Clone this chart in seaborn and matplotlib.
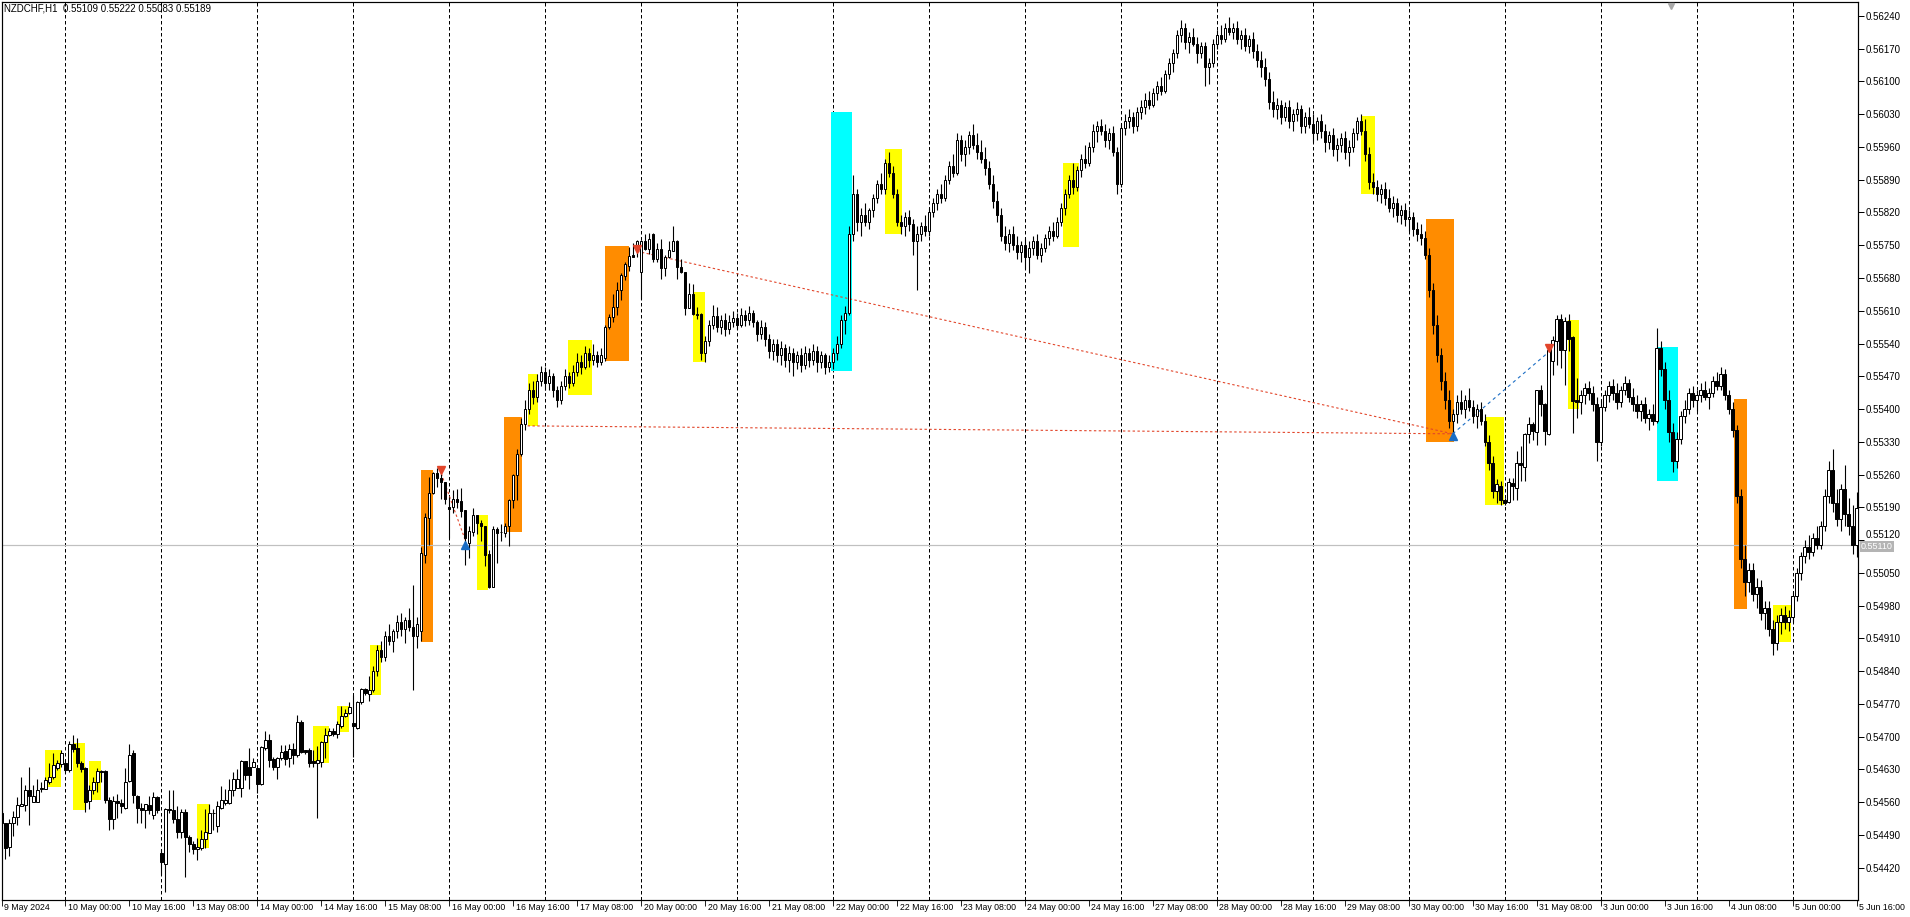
import numpy as np
import pandas as pd
import matplotlib
matplotlib.use("Agg")
import matplotlib.pyplot as plt
import matplotlib.transforms as mtransforms
from matplotlib.patches import Rectangle
from matplotlib import font_manager as fm
import seaborn as sns

# ----------------------------------------------------------------- data
SYMBOL = "NZDCHF,H1"
FIRST_BAR = "2024-05-09 08:00"
POINT = 1e-5  # prices below are in points (1e-5)

open_pts = [
    54536,54516,54465,54516,54528,54552,54554,54585,54561,54561,
    54588,54588,54603,54614,54633,54641,54644,54628,54685,54676,
    54643,54633,54563,54585,54604,54626,54626,54565,54525,54563,
    54559,54547,54606,54665,54574,54548,54543,54553,54532,54572,
    54452,54428,54546,54543,54523,54497,54540,54485,54470,54460,
    54463,54481,54495,54537,54510,54548,54558,54558,54585,54590,
    54590,54647,54636,54636,54633,54599,54676,54692,54652,54636,
    54655,54670,54655,54674,54660,54731,54672,54672,54647,54644,
    54645,54688,54703,54712,54705,54723,54743,54750,54730,54719,
    54774,54801,54792,54799,54840,54885,54870,54915,54905,54925,
    54945,54930,54950,54935,54915,54925,55089,55168,55221,55263,
    55252,55243,55190,55190,55207,55204,55184,55113,55138,55174,
    55157,55150,55090,55020,55143,55137,55136,55150,55206,55259,
    55304,55367,55400,55440,55425,55460,55480,55455,55470,55440,
    55420,55450,55470,55455,55480,55500,55490,55520,55505,55515,
    55500,55510,55575,55597,55618,55654,55685,55706,55729,55743,
    55693,55759,55742,55775,55720,55741,55702,55724,55738,55759,
    55704,55692,55616,55645,55603,55603,55520,55545,55580,55598,
    55575,55590,55570,55585,55595,55580,55600,55590,55605,55585,
    55560,55575,55550,55525,55540,55515,55530,55505,55520,55500,
    55515,55495,55520,55505,55525,55500,55515,55490,55500,55520,
    55540,55590,55605,55775,55860,55800,55815,55800,55825,55850,
    55880,55870,55925,55905,55860,55800,55790,55810,55795,55760,
    55775,55790,55780,55820,55840,55860,55850,55890,55920,55905,
    55975,55945,55960,55985,55965,55950,55935,55915,55880,55845,
    55815,55770,55755,55775,55750,55735,55750,55725,55745,55760,
    55730,55745,55765,55780,55770,55800,55830,55860,55890,55875,
    55910,55935,55925,55960,55995,56005,55995,55975,55990,55950,
    55880,56000,56015,56025,56005,56035,56045,56060,56050,56075,
    56090,56080,56115,56140,56160,56200,56215,56185,56195,56180,
    56160,56175,56130,56140,56180,56200,56190,56215,56205,56215,
    56190,56200,56175,56190,56165,56145,56130,56105,56055,56040,
    56050,56025,56045,56015,56030,56040,56005,56025,56010,55990,
    56015,55995,55970,55985,55955,55965,55980,55950,55960,55990,
    56015,55995,55945,55885,55875,55860,55870,55850,55830,55840,
    55815,55825,55805,55810,55785,55775,55765,55730,55655,55580,
    55515,55460,55420,55375,55390,55415,55400,55420,55405,55385,
    55400,55375,55330,55285,55225,55236,55206,55202,55241,55231,
    55285,55277,55346,55367,55351,55440,55411,55347,55503,55545,
    55593,55526,55588,55553,55420,55416,55430,55445,55435,55410,
    55330,55405,55430,55450,55435,55415,55440,55455,55425,55410,
    55395,55410,55380,55390,55375,55530,55485,55420,55350,55290,
    55335,55385,55400,55435,55420,55430,55440,55425,55435,55460,
    55450,55475,55430,55400,55355,55215,55080,55030,55055,55005,
    55020,54965,54975,54930,54900,54945,54960,54945,54955,55000,
    55050,55085,55105,55095,55125,55110,55150,55215,55270,55200,
    55165,55230,55175,55150,55109,
]

high_pts = [
    54541,54516,54523,54541,54570,54614,54596,54636,54596,54610,
    54603,54614,54643,54666,54650,54671,54650,54690,54703,54696,
    54647,54636,54596,54614,54633,54628,54628,54570,54574,54577,
    54567,54632,54684,54672,54576,54559,54556,54574,54581,54574,
    54460,54548,54587,54587,54552,54545,54545,54490,54476,54483,
    54501,54545,54555,54545,54563,54594,54588,54610,54625,54631,
    54650,54648,54676,54655,54633,54679,54713,54706,54657,54657,
    54683,54683,54684,54687,54746,54735,54672,54676,54672,54681,
    54690,54719,54719,54719,54734,54766,54759,54774,54788,54776,
    54803,54803,54830,54850,54895,54905,54925,54940,54930,54960,
    54965,54955,54975,55024,54955,55106,55177,55255,55266,55273,
    55262,55245,55213,55227,55229,55231,55184,55149,55188,55174,
    55163,55150,55099,55149,55147,55154,55157,55208,55262,55314,
    55380,55420,55455,55460,55475,55492,55490,55485,55478,55450,
    55460,55485,55480,55495,55520,55515,55535,55530,55540,55525,
    55530,55580,55604,55645,55672,55690,55714,55747,55754,55762,
    55761,55775,55776,55776,55754,55763,55729,55759,55791,55761,
    55720,55693,55670,55668,55618,55605,55555,55590,55623,55618,
    55600,55605,55600,55610,55605,55615,55612,55620,55612,55590,
    55590,55585,55560,55550,55550,55545,55540,55535,55530,55525,
    55530,55535,55530,55540,55535,55525,55520,55515,55530,55555,
    55600,55620,55790,55900,55870,55830,55840,55830,55860,55890,
    55905,55935,55950,55920,55870,55815,55820,55825,55805,55790,
    55800,55815,55830,55850,55870,55880,55900,55930,55945,55990,
    55985,55975,55995,56010,55990,55975,55960,55930,55900,55865,
    55830,55790,55785,55790,55770,55760,55765,55760,55770,55775,
    55755,55775,55790,55800,55810,55840,55870,55900,55925,55920,
    55945,55965,55970,56010,56015,56020,56010,56000,56005,55960,
    56010,56030,56040,56035,56045,56060,56075,56080,56085,56100,
    56110,56125,56150,56170,56210,56232,56225,56205,56215,56195,
    56185,56185,56150,56190,56210,56220,56225,56237,56225,56230,
    56210,56215,56200,56205,56180,56165,56150,56120,56080,56065,
    56060,56055,56060,56040,56055,56050,56035,56045,56030,56025,
    56030,56010,55995,56000,55980,55990,55995,55975,56000,56025,
    56030,56020,55960,55905,55890,55880,55885,55870,55855,55850,
    55835,55840,55825,55820,55800,55795,55780,55745,55670,55600,
    55530,55480,55440,55400,55430,55440,55430,55445,55420,55410,
    55415,55390,55345,55300,55250,55247,55210,55252,55252,55310,
    55321,55349,55384,55373,55440,55452,55413,55534,55555,55601,
    55604,55596,55604,55555,55467,55440,55455,55460,55450,55425,
    55420,55440,55460,55465,55455,55450,55470,55465,55445,55430,
    55420,55425,55400,55410,55573,55545,55500,55440,55370,55350,
    55395,55420,55445,55450,55440,55455,55460,55445,55470,55480,
    55490,55485,55440,55415,55365,55230,55110,55070,55070,55040,
    55035,54990,54990,54950,54960,54975,54980,54970,55010,55060,
    55095,55120,55130,55135,55150,55160,55230,55290,55315,55230,
    55240,55280,55210,55195,55222,
]

low_pts = [
    54512,54438,54444,54487,54512,54552,54541,54512,54561,54561,
    54581,54588,54599,54609,54628,54635,54625,54625,54668,54636,
    54625,54539,54545,54577,54581,54603,54559,54501,54503,54527,
    54537,54545,54603,54559,54516,54516,54505,54534,54523,54537,
    54404,54369,54537,54516,54483,54483,54401,54454,54450,54436,
    54458,54461,54494,54501,54497,54546,54553,54556,54574,54590,
    54570,54607,54588,54636,54580,54596,54672,54636,54628,54610,
    54650,54639,54636,54641,54657,54665,54663,54636,54636,54527,
    54636,54654,54701,54701,54697,54719,54741,54748,54657,54716,
    54770,54790,54777,54795,54830,54860,54862,54895,54880,54910,
    54915,54900,54925,54800,54890,54905,55071,55110,55219,55234,
    55208,55198,55124,55177,55188,55170,55067,55082,55129,55134,
    55117,55065,55017,55019,55070,55119,55127,55108,55188,55206,
    55300,55355,55390,55410,55415,55450,55440,55440,55425,55405,
    55410,55440,55445,55450,55470,55475,55485,55490,55495,55490,
    55495,55502,55570,55585,55600,55634,55675,55695,55724,55725,
    55636,55740,55732,55714,55714,55677,55685,55722,55738,55677,
    55690,55601,55615,55601,55593,55505,55500,55535,55570,55565,
    55560,55555,55560,55575,55570,55575,55578,55580,55575,55545,
    55550,55535,55510,55505,55500,55495,55490,55480,55470,55485,
    55480,55485,55490,55495,55480,55488,55475,55480,55485,55505,
    55530,55560,55600,55760,55780,55770,55790,55785,55810,55840,
    55860,55860,55895,55850,55790,55775,55770,55780,55730,55655,
    55760,55770,55770,55810,55825,55840,55845,55880,55895,55900,
    55930,55920,55945,55955,55935,55925,55900,55870,55830,55800,
    55760,55740,55735,55740,55720,55715,55700,55690,55730,55720,
    55715,55735,55750,55760,55765,55790,55815,55850,55860,55865,
    55895,55915,55920,55950,55970,55985,55960,55955,55940,55860,
    55875,55985,56000,55990,55995,56020,56030,56040,56045,56060,
    56070,56075,56105,56120,56150,56185,56170,56160,56175,56140,
    56150,56090,56095,56130,56170,56180,56185,56200,56190,56180,
    56170,56165,56160,56150,56130,56110,56090,56040,56025,56020,
    56010,56015,56000,55995,56015,55990,55990,56000,55970,55975,
    55980,55950,55955,55940,55930,55950,55935,55920,55950,55975,
    55985,55930,55870,55860,55845,55840,55835,55820,55810,55800,
    55795,55790,55780,55770,55760,55750,55720,55640,55560,55500,
    55440,55400,55360,55350,55370,55390,55380,55395,55370,55360,
    55365,55320,55270,55210,55200,55195,55195,55200,55206,55206,
    55247,55247,55327,55334,55324,55385,55324,55344,55473,55493,
    55488,55452,55524,55349,55380,55390,55410,55420,55395,55290,
    55320,55395,55415,55420,55400,55405,55430,55415,55395,55380,
    55375,55370,55355,55365,55370,55470,55400,55330,55265,55275,
    55325,55370,55390,55405,55395,55415,55420,55400,55425,55440,
    55440,55420,55390,55340,55200,55060,55000,55010,54990,54975,
    54950,54930,54915,54874,54885,54920,54930,54925,54945,54990,
    55035,55070,55080,55085,55100,55100,55140,55200,55180,55150,
    55140,55150,55130,55090,55083,
]

close_pts = [
    54516,54463,54516,54528,54553,54557,54585,54574,54574,54587,
    54590,54607,54614,54639,54643,54665,54628,54685,54673,54643,
    54630,54561,54587,54604,54626,54625,54565,54525,54563,54558,
    54552,54604,54661,54576,54547,54543,54555,54543,54572,54543,
    54432,54546,54543,54523,54497,54540,54485,54470,54460,54465,
    54482,54496,54537,54536,54551,54564,54565,54585,54609,54609,
    54647,54617,54619,54645,54599,54677,54692,54649,54636,54655,
    54668,54652,54674,54660,54731,54668,54668,54643,54643,54649,
    54688,54703,54712,54706,54726,54745,54750,54763,54723,54774,
    54801,54793,54799,54840,54885,54870,54915,54905,54925,54945,
    54930,54950,54935,54915,54940,55092,55170,55221,55264,55253,
    55243,55208,55187,55207,55202,55183,55124,55139,55174,55156,
    55151,55088,55020,55143,55136,55137,55150,55206,55259,55304,
    55367,55400,55440,55425,55460,55480,55455,55470,55440,55420,
    55450,55470,55455,55480,55500,55490,55520,55505,55515,55500,
    55515,55575,55597,55617,55654,55686,55709,55727,55725,55759,
    55759,55742,55764,55720,55741,55702,55724,55739,55759,55704,
    55692,55615,55645,55604,55601,55520,55545,55580,55598,55575,
    55590,55570,55585,55595,55580,55600,55590,55605,55585,55560,
    55575,55550,55525,55540,55515,55530,55505,55520,55500,55515,
    55495,55520,55505,55525,55500,55515,55490,55500,55520,55540,
    55590,55605,55775,55860,55800,55815,55800,55825,55850,55880,
    55870,55925,55905,55860,55800,55790,55810,55795,55760,55775,
    55790,55780,55820,55840,55860,55850,55890,55920,55905,55975,
    55945,55960,55985,55965,55950,55935,55915,55880,55845,55815,
    55770,55755,55775,55750,55735,55750,55725,55745,55760,55730,
    55745,55765,55780,55770,55800,55830,55860,55890,55875,55910,
    55935,55925,55960,55995,56005,55995,55975,55990,55950,55880,
    56000,56015,56025,56005,56035,56045,56060,56050,56075,56090,
    56080,56115,56140,56160,56200,56215,56185,56195,56180,56160,
    56175,56130,56140,56180,56200,56190,56215,56205,56215,56190,
    56200,56175,56190,56165,56145,56130,56105,56055,56040,56050,
    56025,56045,56015,56030,56040,56005,56025,56010,55990,56015,
    55995,55970,55985,55955,55965,55980,55950,55960,55990,56015,
    55995,55945,55885,55875,55860,55870,55850,55830,55840,55815,
    55825,55805,55810,55785,55775,55765,55730,55655,55580,55515,
    55460,55420,55375,55390,55415,55400,55420,55405,55385,55400,
    55375,55330,55285,55225,55240,55206,55200,55244,55236,55285,
    55281,55346,55367,55352,55440,55411,55352,55526,55547,55593,
    55526,55588,55550,55418,55416,55430,55445,55435,55410,55330,
    55405,55430,55450,55435,55415,55440,55455,55425,55410,55395,
    55410,55380,55390,55375,55530,55485,55420,55350,55290,55335,
    55385,55400,55435,55420,55430,55440,55425,55435,55460,55450,
    55475,55430,55400,55355,55215,55080,55030,55055,55005,55020,
    54965,54975,54930,54900,54945,54960,54945,54955,55000,55050,
    55085,55105,55095,55125,55110,55150,55215,55270,55200,55165,
    55230,55175,55150,55109,55189,
]

y_tick_labels = ["0.56240", "0.56170", "0.56100", "0.56030", "0.55960", "0.55890",
                 "0.55820", "0.55750", "0.55680", "0.55610", "0.55540", "0.55470",
                 "0.55400", "0.55330", "0.55260", "0.55190", "0.55120", "0.55050",
                 "0.54980", "0.54910", "0.54840", "0.54770", "0.54700", "0.54630",
                 "0.54560", "0.54490", "0.54420"]

x_tick_labels = ["9 May 2024", "10 May 00:00", "10 May 16:00", "13 May 08:00", "14 May 00:00",
                 "14 May 16:00", "15 May 08:00", "16 May 00:00", "16 May 16:00", "17 May 08:00",
                 "20 May 00:00", "20 May 16:00", "21 May 08:00", "22 May 00:00", "22 May 16:00",
                 "23 May 08:00", "24 May 00:00", "24 May 16:00", "27 May 08:00", "28 May 00:00",
                 "28 May 16:00", "29 May 08:00", "30 May 00:00", "30 May 16:00", "31 May 08:00",
                 "3 Jun 00:00", "3 Jun 16:00", "4 Jun 08:00", "5 Jun 00:00", "5 Jun 16:00"]

price_line = 0.55110
header_values = "0.55109 0.55222 0.55083 0.55189"

# zone rectangles: bar index from / to, price top / bottom (points), kind
box_from = [10.9, 17.8, 21.9, 48.8, 78.0, 84.0, 92.1, 118.9, 131.6, 141.6, 173.0,
            221.0, 265.4, 340.0, 371.0, 391.8, 443.0,
            104.9, 125.6, 150.9, 356.3, 433.3,
            207.6, 414.1]
box_to = [15.0, 20.9, 25.0, 51.8, 81.9, 86.9, 94.9, 121.8, 134.3, 147.7, 175.9,
          225.3, 269.4, 343.6, 375.9, 394.6, 447.6,
          107.9, 130.1, 156.9, 363.3, 436.6,
          212.8, 419.3]
box_top = [54671, 54686, 54647, 54556, 54723, 54766, 54895, 55174, 55474, 55547, 55651,
           55956, 55925, 56026, 55382, 55591, 54981,
           55270, 55384, 55748, 55807, 55421,
           56034, 55533]
box_bottom = [54592, 54543, 54564, 54463, 54644, 54710, 54790, 55013, 55364, 55429, 55500,
              55773, 55747, 55859, 55195, 55401, 54903,
              54903, 55138, 55502, 55330, 54973,
              55481, 55247]
box_kind = ["yellow"] * 17 + ["orange"] * 5 + ["cyan"] * 2

# trend lines (bar index, price points)
red_lines = [([159, 363], [55737, 55347]),
             ([131.6, 363], [55364, 55347]),
             ([110, 116], [55262, 55120])]
blue_lines = [([363, 386.5], [55347, 55518])]
red_arrows_x = [110, 159, 387]
red_arrows_y = [55270, 55742, 55530]
blue_arrows_x = [116, 363]
blue_arrows_y = [55110, 55343]

# ----------------------------------------------------------------- style
sns.set_style("white")
plt.rcParams["font.family"] = ["Liberation Sans", "DejaVu Sans"]

KIND_COLORS = {"yellow": "#FFFF00", "orange": "#FF8C00", "cyan": "#00FFFF"}
RED = "#E2452A"
BLUE = "#1A6DC4"
PX = 0.72  # one pixel in points at 100 dpi

try:
    fm.findfont(fm.FontProperties(family="Liberation Sans Narrow"), fallback_to_default=False)
    xfam, xsize = ["Liberation Sans Narrow", "DejaVu Sans"], 7.3
except Exception:
    xfam, xsize = ["Liberation Sans", "DejaVu Sans"], 6.3

# ----------------------------------------------------------------- frame
W_PX, H_PX = 1910, 917
fig = plt.figure(figsize=(W_PX / 100, H_PX / 100), dpi=100)
ax_l, ax_r, ax_t, ax_b = 1.5, 1858.0, 2.0, 900.0
ax = fig.add_axes([ax_l / W_PX, 1 - ax_b / H_PX, (ax_r - ax_l) / W_PX, (ax_b - ax_t) / H_PX])

n = min(len(open_pts), len(high_pts), len(low_pts), len(close_pts))
o = np.array(open_pts[:n]) * POINT
h = np.array(high_pts[:n]) * POINT
l = np.array(low_pts[:n]) * POINT
c = np.array(close_pts[:n]) * POINT
x = np.arange(n)

hours = pd.date_range(FIRST_BAR, periods=n * 2, freq="h")
times = hours[hours.dayofweek < 5][:n]

# day separators (dashed)
for i in np.where(times.hour == 0)[0]:
    ax.axvline(i, color="black", lw=PX, ls=(0, (3.5, 2.5)), zorder=0.5)

# zones
for x0, x1, top, bot, kind in zip(box_from, box_to, box_top, box_bottom, box_kind):
    ax.add_patch(Rectangle((x0, bot * POINT), x1 - x0, (top - bot) * POINT,
                           facecolor=KIND_COLORS[kind], edgecolor="none", zorder=1))

# current price line
ax.axhline(price_line, color="#C0C0C0", lw=1.2 * PX, zorder=1.2)

# trend lines
for xs, ys in red_lines:
    ax.plot(xs, np.array(ys) * POINT, color=RED, lw=1.1 * PX, ls=(0, (2.2, 2.2)), zorder=1.5)
for xs, ys in blue_lines:
    ax.plot(xs, np.array(ys) * POINT, color=BLUE, lw=1.1 * PX, ls=(0, (3, 3)), zorder=1.5)

# candles
hi = np.maximum(h, np.maximum(o, c))
lo = np.minimum(l, np.minimum(o, c))
ax.vlines(x, lo, hi, color="black", lw=1.1 * PX, zorder=2)
up = c >= o
body_bot = np.minimum(o, c)
body_h = np.maximum(np.abs(c - o), 0.5 * POINT)
ax.bar(x[up], body_h[up], bottom=body_bot[up], width=0.6, color="white",
       edgecolor="black", linewidth=PX, zorder=3)
ax.bar(x[~up], body_h[~up], bottom=body_bot[~up], width=0.6, color="black",
       edgecolor="black", linewidth=PX, zorder=3)

# arrows
ax.plot(red_arrows_x, np.array(red_arrows_y) * POINT, ls="none", marker="v",
        ms=6, color=RED, zorder=4)
ax.plot(blue_arrows_x, np.array(blue_arrows_y) * POINT, ls="none", marker="^",
        ms=6, color=BLUE, zorder=4)

# limits (4 px per bar)
ax.set_xlim((ax_l - 0.5) / 4.0, (ax_r - 0.5) / 4.0)
ax.set_ylim(0.543509, 0.562697)

# y axis on the right; the label next to the price line is drawn separately,
# nudged upward so that the price box does not hide it
yt = [float(s) for s in y_tick_labels]
price_near = min(y_tick_labels, key=lambda s: abs(float(s) - price_line))
ax.set_yticks(yt)
ax.set_yticklabels(["" if s == price_near else s for s in y_tick_labels])
ax.yaxis.tick_right()
ax.tick_params(axis="y", which="major", direction="out", length=4, width=PX, pad=1.5,
               labelsize=7, colors="black", right=True, left=False,
               labelright=True, labelleft=False)
ylab_t = mtransforms.blended_transform_factory(ax.transAxes, ax.transData) + \
    mtransforms.ScaledTranslation(5.5 / 72, 5 / 100, fig.dpi_scale_trans)
ax.text(1.0, float(price_near), price_near, transform=ylab_t, ha="left", va="center",
        fontsize=7, color="black", clip_on=False)

# x axis: ticks at label bars, labels left-aligned to the right of the tick
pos = [0]
for lab in x_tick_labels[1:]:
    t = pd.to_datetime("2024 " + lab, format="%Y %d %b %H:%M")
    pos.append(int(np.where(times == t)[0][0]))
ax.set_xticks(pos)
ax.set_xticklabels([""] * len(pos))
ax.tick_params(axis="x", which="major", direction="out", length=4, width=PX, bottom=True)
offset = mtransforms.ScaledTranslation(2.5 / 100, -3.5 / 100, fig.dpi_scale_trans)
trans = mtransforms.blended_transform_factory(ax.transData, ax.transAxes) + offset
for p, lab in zip(pos, x_tick_labels):
    ax.text(p, 0, lab, transform=trans, ha="left", va="top", fontsize=xsize,
            family=xfam, color="black", clip_on=False)

for sp in ax.spines.values():
    sp.set_color("black")
    sp.set_linewidth(PX * 1.2)
    sp.set_visible(True)

# price label on the axis
plab = mtransforms.blended_transform_factory(ax.transAxes, ax.transData) + \
    mtransforms.ScaledTranslation(3 / 100, -2 / 100, fig.dpi_scale_trans)
ax.text(1.0, price_line, f"{price_line:.5f}", transform=plab, ha="left", va="center",
        fontsize=6.5, color="white", zorder=10, clip_on=False,
        bbox=dict(boxstyle="square,pad=0.12", facecolor="#B4B4B4", edgecolor="none"))

# chart shift marker at the top
ax.plot([1669 / (ax_r - ax_l)], [0.996], transform=ax.transAxes, marker="v", ms=5,
        color="#A8A8A8", ls="none", clip_on=False, zorder=5)

# header
fig.text(4 / W_PX, 1 - 3.5 / H_PX, f"{SYMBOL}  {header_values}", ha="left", va="top",
         fontsize=7, color="black")

fig.savefig("out.png", dpi=100, facecolor="white")
